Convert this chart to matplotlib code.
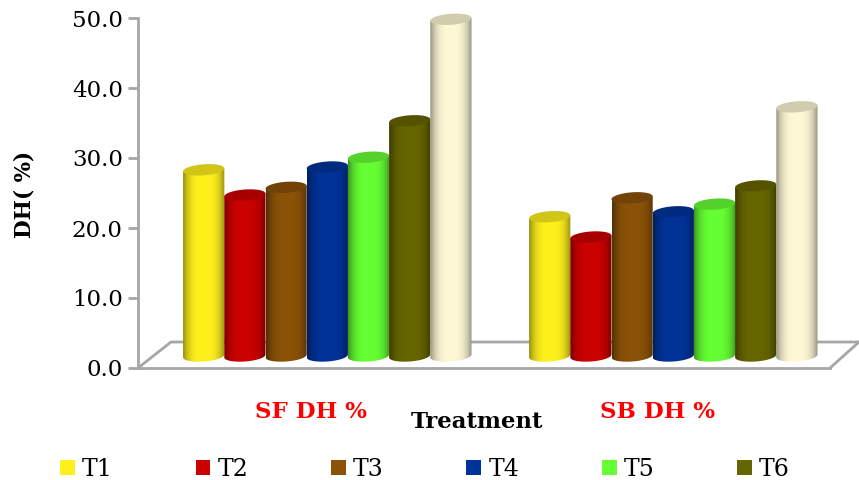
import numpy as np
import matplotlib
matplotlib.use("Agg")
import matplotlib.pyplot as plt
from matplotlib.patches import Patch, PathPatch
from matplotlib.path import Path

groups = ["SF DH %", "SB DH %"]
series = ["T1", "T2", "T3", "T4", "T5", "T6", "T7"]
sf_values = [26.6, 23.0, 24.1, 27.0, 28.4, 33.6, 48.1]
sb_values = [19.9, 17.0, 22.6, 20.6, 21.7, 24.3, 35.6]
colors = ["#FFF01C", "#CC0000", "#8B5208", "#003399", "#66FF33", "#666600", "#FFF8D6"]
legend_series = series[:6]
yticks = [0, 10, 20, 30, 40, 50]

W, H = 859, 480
fig = plt.figure(figsize=(W / 100, H / 100), dpi=100)
plt.rcParams["font.family"] = ["DejaVu Serif"]
ax = fig.add_axes([138 / W, (H - 368) / H, (830 - 138) / W, 350 / H])
ax.set_xlim(0, 2)
ax.set_ylim(0, 50)
ux = 346.0        # pixels per group
uy = 7.0          # pixels per DH unit
GREY = "#A6A6A6"

for side in ("top", "right"):
    ax.spines[side].set_visible(False)
for side in ("left", "bottom"):
    ax.spines[side].set_color(GREY)
    ax.spines[side].set_linewidth(2.0)
ax.set_yticks(yticks)
ax.set_yticklabels([f"{v:.1f}" for v in yticks], fontsize=16.5, family="DejaVu Serif")
ax.tick_params(axis="y", length=7, width=2, color=GREY, pad=4)
ax.set_xticks([0.5, 1.5])
ax.set_xticklabels(groups, fontsize=16.5, fontweight="bold", color="#FF0000")
ax.tick_params(axis="x", length=0, pad=24)

# floor in depth
dx_f, dy_f = 33 / ux, 26 / uy
ax.plot([0, dx_f, 2 + 29 / ux], [0, dy_f, dy_f], color=GREY, lw=2, clip_on=False, zorder=1)
ax.plot([2, 2 + 29 / ux], [0, dy_f], color=GREY, lw=2, clip_on=False, zorder=1)

bw = 41.2 / ux
depth_x, base = 16.3 / ux, 12 / uy
ry = 5.5 / uy
slope = 0.07 * ux / uy   # tilt of the caps


def shade_img(color):
    rgb = np.array(matplotlib.colors.to_rgb(color))
    u = np.linspace(-1, 1, 128)
    s = 1 - 0.42 * np.abs(u) ** 3.2
    return (rgb[None, :] * s[:, None])[None, :, :]


def ellipse_xy(xc, yc):
    th = np.linspace(0, 2 * np.pi, 80)
    ex = np.cos(th) * bw / 2
    return xc + ex, yc + np.sin(th) * ry + slope * ex


z = 3
for g, vals in enumerate([sf_values, sb_values]):
    for i, (v, c) in enumerate(zip(vals, colors)):
        xc = g + 0.5 + (i - 3) * bw + depth_x
        top = base + v
        th = np.linspace(np.pi, 2 * np.pi, 40)
        ex = np.cos(th) * bw / 2
        bx = xc + ex
        by = base + np.sin(th) * ry + slope * ex
        tx = xc - ex
        ty = top + slope * (-ex)
        verts = np.column_stack([np.r_[bx, tx], np.r_[by, ty]])
        verts = np.vstack([verts, verts[0]])
        body = PathPatch(Path(verts), fc="none", ec="none", transform=ax.transData)
        ax.add_patch(body)
        im = ax.imshow(shade_img(c), extent=[xc - bw / 2, xc + bw / 2, 0, top + 2],
                       aspect="auto", zorder=z, interpolation="bilinear")
        im.set_clip_path(body)
        im.set_clip_box(fig.bbox)
        ex_, ey_ = ellipse_xy(xc, top)
        capc = np.array(matplotlib.colors.to_rgb(c)) * 0.82
        ax.fill(ex_, ey_, color=capc, lw=0, clip_on=False, zorder=z + 0.5)
        z += 1

ax.set_xlim(0, 2)
ax.set_ylim(0, 50)

fig.text(24 / W, 1 - 194 / H, "DH( %)", rotation=90, ha="center", va="center",
         fontsize=15.5, fontweight="bold")
fig.text(477 / W, 1 - 422 / H, "Treatment", ha="center", va="center",
         fontsize=16.4, fontweight="bold")

handles = [Patch(fc=c, ec="none", label=s) for s, c in zip(legend_series, colors)]
fig.legend(handles=handles, ncol=6, frameon=False, fontsize=17,
           loc="center left", bbox_to_anchor=(53 / W, 1 - 469.5 / H),
           handlelength=0.63, handleheight=0.63, handletextpad=0.3,
           columnspacing=3.5, borderpad=0.3, borderaxespad=0)

fig.savefig("out.png", dpi=100)
